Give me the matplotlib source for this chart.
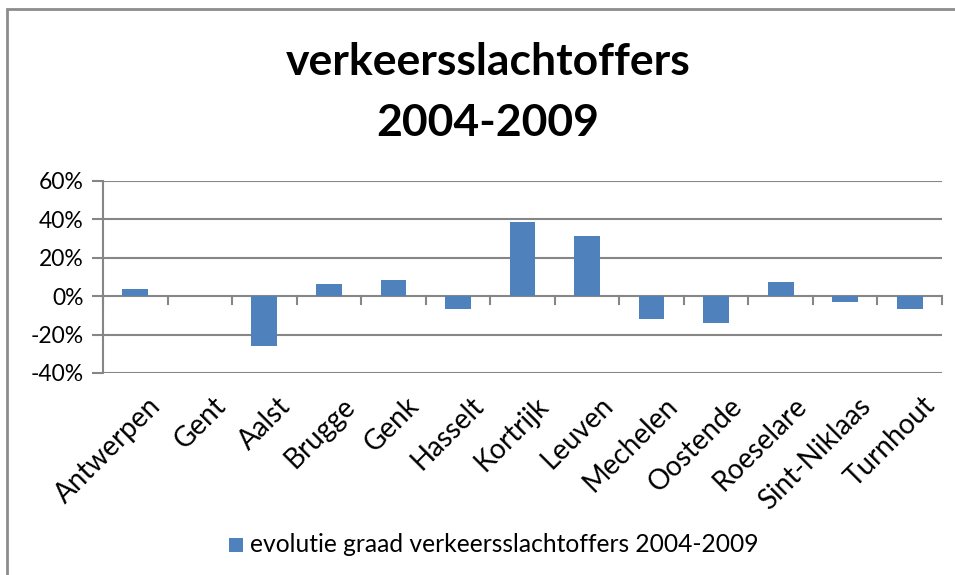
import matplotlib
matplotlib.use("Agg")
import matplotlib.pyplot as plt
from matplotlib.patches import Rectangle
from matplotlib.ticker import PercentFormatter

# data (fractions)
cities = ["Antwerpen", "Gent", "Aalst", "Brugge", "Genk", "Hasselt", "Kortrijk",
          "Leuven", "Mechelen", "Oostende", "Roeselare", "Sint-Niklaas", "Turnhout"]
evolutie = [0.036, 0.0, -0.258, 0.062, 0.083, -0.069, 0.388,
            0.312, -0.118, -0.142, 0.074, -0.030, -0.066]
series_name = "evolutie graad verkeersslachtoffers 2004-2009"
y_ticks = [-0.4, -0.2, 0.0, 0.2, 0.4, 0.6]

plt.rcParams['font.family'] = ['Lato', 'DejaVu Sans']
plt.rcParams['axes.unicode_minus'] = False

W, H = 955, 575
fig = plt.figure(figsize=(W / 100, H / 100), dpi=100)

# chart area border (runs off right and bottom of the image)
fig.patches.append(Rectangle((7 / W, -0.1), 1.2, 1 - 9 / H + 0.1, transform=fig.transFigure,
                             fill=False, edgecolor='#8c8c8c', linewidth=2))

ax = fig.add_axes([103 / W, 1 - 373 / H, (942 - 103) / W, (373 - 181) / H])

grid_col = '#868686'
x = range(len(cities))
ax.bar(x, evolutie, width=0.4, color='#4F81BD', linewidth=0, zorder=3)

ax.set_xlim(-0.5, len(cities) - 0.5)
ax.set_ylim(-0.4, 0.6)
ax.set_yticks(y_ticks)
ax.yaxis.set_major_formatter(PercentFormatter(1.0, decimals=0))
for t in y_ticks:
    ax.axhline(t, color=grid_col, linewidth=1.5, zorder=1)

for s in ['top', 'right', 'bottom']:
    ax.spines[s].set_visible(False)
ax.spines['left'].set_color(grid_col)
ax.spines['left'].set_linewidth(1.5)

ax.tick_params(axis='y', length=8, width=1.5, color=grid_col, labelsize=16.5, pad=6)
ax.tick_params(axis='x', length=0)
ax.set_xticks([])

# category tick marks along the zero line
for i in range(len(cities) + 1):
    ax.plot([i - 0.5, i - 0.5], [0, -0.04], color=grid_col, linewidth=1.5, zorder=2, clip_on=False)

# rotated category labels under the plot
for i, name in enumerate(cities):
    ax.annotate(name, xy=(i, -0.4), xycoords='data', xytext=(9, -14), textcoords='offset points',
                rotation=45, ha='right', va='top', rotation_mode='anchor', fontsize=20)

fig.text(488 / W, 1 - 62 / H, "verkeersslachtoffers", ha='center', va='center', fontsize=32, fontweight='bold')
fig.text(488 / W, 1 - 123 / H, "2004-2009", ha='center', va='center', fontsize=32, fontweight='bold')

# legend
fig.patches.append(Rectangle((229 / W, 1 - 552 / H), 14 / W, 14 / H, transform=fig.transFigure,
                             facecolor='#4F81BD', edgecolor='none'))
fig.text(250 / W, 1 - 545 / H, series_name, ha='left', va='center', fontsize=17.7)

fig.savefig("out.png", dpi=100)
